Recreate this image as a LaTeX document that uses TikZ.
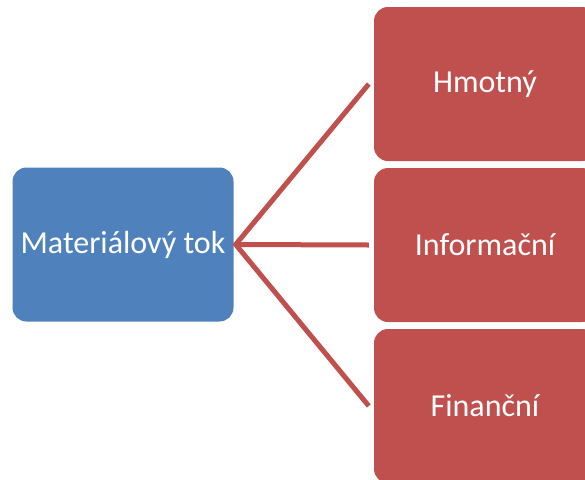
\documentclass[tikz,border=0pt]{standalone}
\usepackage{fontspec}
\setmainfont{Carlito}
\definecolor{boxblue}{HTML}{4F81BD}
\definecolor{boxred}{HTML}{C0504D}
\begin{document}
\begin{tikzpicture}[x=1pt,y=-1pt,
  box/.style={rounded corners=14pt, minimum width=221pt, minimum height=154pt,
    inner sep=0pt, text=white, font=\fontsize{32}{37}\selectfont},
  root/.style={box, fill=boxblue},
  leaf/.style={box, fill=boxred, minimum width=222pt},
  link/.style={draw=boxred, line width=5pt}]
\useasboundingbox (0,0) rectangle (585,479);
\clip (0,0) rectangle (585,479);
% root node
\node[root] (m) at (123,244.5) {Materiálový tok};
% branch nodes
\node[leaf] (h) at (485,84) {Hmotný};
\node[leaf] (i) at (485,245) {Informační};
\node[leaf] (f) at (485,406) {Finanční};
% connectors from the root to each branch
\coordinate (apex) at ([xshift=2pt]m.east);
\draw[link] ([xshift=-5pt]h.west) -- (apex) -- ([xshift=-5pt]f.west);
\draw[link] (apex) -- ([xshift=-5pt]i.west);
\end{tikzpicture}
\end{document}
